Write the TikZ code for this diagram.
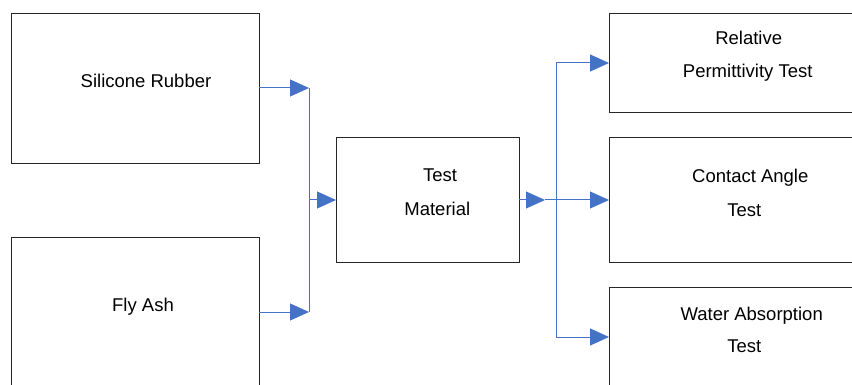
\documentclass[tikz,border=0pt]{standalone}
\usepackage{fontspec}
\setmainfont{Liberation Sans}
\usetikzlibrary{arrows.meta}
\definecolor{connblue}{HTML}{4472C4}
\begin{document}
\begin{tikzpicture}[x=1pt,y=-1pt,
  box/.style={draw=black!85, line width=0.9pt, inner sep=0pt, outer sep=0pt, rectangle},
  lbl/.style={anchor=base, inner sep=0pt, font=\fontsize{18.5}{22}\selectfont},
  conn/.style={draw=connblue, line width=1pt},
  arr/.style={conn, -{Triangle[length=19pt,width=17pt]}}]
\useasboundingbox (0,0) rectangle (852,385);
\clip (0,0) rectangle (852,385);
% boxes
\node[box, minimum width=248pt, minimum height=150pt] (SR) at (135,88) {};
\node[box, minimum width=248pt, minimum height=150pt] (FA) at (135,312) {};
\node[box, minimum width=183pt, minimum height=125pt] (TM) at (427.5,199.5) {};
\node[box, minimum width=248pt, minimum height=99pt] (RP) at (733,62.5) {};
\node[box, minimum width=248pt, minimum height=125pt] (CA) at (733,199.5) {};
\node[box, minimum width=248pt, minimum height=100pt] (WA) at (733,337) {};
% labels
\node[lbl] (tSR) at (146,88) {Silicone Rubber};
\node[lbl] (tFA) at (143,311) {Fly Ash};
\node[lbl] (tTM1) at (440,182) {Test};
\node[lbl] (tTM2) at (437.3,215.5) {Material};
\node[lbl] (tRP1) at (748.7,45) {Relative};
\node[lbl] (tRP2) at (747.7,78) {Permittivity Test};
\node[lbl] (tCA1) at (750.3,182.7) {Contact Angle};
\node[lbl] (tCA2) at (744.3,216) {Test};
\node[lbl] (tWA1) at (751.7,320) {Water Absorption};
\node[lbl] (tWA2) at (744.3,352.7) {Test};
% junctions
\coordinate (jL1) at (309,88);
\coordinate (jL2) at (309,312);
\coordinate (jLm) at (309,200);
\coordinate (m1) at (545,200);
\coordinate (jR1) at (556,63);
\coordinate (jR3) at (556,337);
% connectors
\draw[arr] (SR.east) -- (jL1);
\draw[arr] (FA.east) -- (jL2);
\draw[conn] (jL1) -- (jL2);
\draw[arr] (jLm) -- (jLm -| TM.west);
\draw[arr] (TM.east |- m1) -- (m1);
\draw[arr] (m1) -- (m1 -| CA.west);
\draw[conn] (jR1) -- (jR3);
\draw[arr] (jR1) -- (jR1 -| RP.west);
\draw[arr] (jR3) -- (jR3 -| WA.west);
\end{tikzpicture}
\end{document}
